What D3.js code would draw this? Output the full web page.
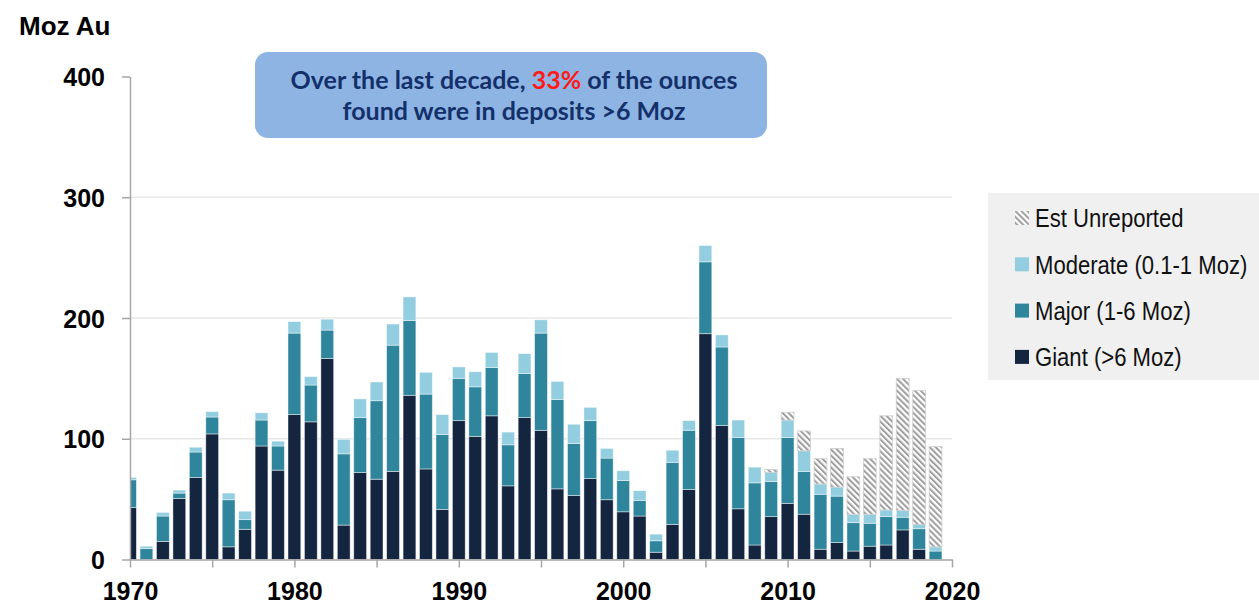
<!DOCTYPE html>
<html lang="en">
<meta charset="utf-8">
<head>
<script src="https://d3js.org/d3.v7.min.js"></script>
<style>
  body { margin: 0; background: #fff; }
  svg text { font-family: "Liberation Sans", Arial, sans-serif; }
  svg text.note { font-family: Lato, "Open Sans", sans-serif; font-weight: bold; font-size: 25px; }
</style>
</head>
<body>
<svg id="chart" width="1259" height="604"></svg>
<script>
// discovery year (categories)
var years = d3.range(1970, 2020);

// Moz Au by deposit size
var giant = [43, 0, 15, 50.5, 68, 104, 10.5, 25, 94, 74,
             120, 114, 166.5, 28.5, 72, 66.5, 73, 136, 75, 41.5,
             115, 102, 119, 61, 117.5, 107, 58.5, 53, 67, 49.5,
             39.5, 36, 6, 29, 58, 187, 111, 42, 12, 35.5,
             46.5, 37.5, 8.5, 14, 7, 11, 12, 24.5, 8.5, 0];
var major = [23, 9, 21, 4.5, 21, 14, 39, 8, 21.5, 20,
             67.5, 30.5, 23.5, 59, 45.5, 65, 104.5, 62, 62, 62,
             35, 41, 40, 34, 36.5, 80.5, 74, 43, 48, 34.5,
             26, 13, 9.5, 51.5, 49, 59.5, 65, 59, 51.5, 29,
             54.5, 35.5, 45.5, 38.5, 23.5, 19, 23.5, 10.5, 17, 7];
var moderate = [2, 2, 3, 2.5, 4, 4.5, 5.5, 7, 6, 4,
                9.5, 7, 9, 12, 15.5, 15.5, 17.5, 19.5, 18, 16.5,
                9.5, 12.5, 12.5, 10.5, 16.5, 11, 15, 16, 11, 8,
                8, 8, 5.5, 10, 8, 13.5, 10, 14.5, 13, 7.5,
                14.5, 17, 8.5, 7.5, 7, 7.5, 5.5, 5.5, 3.5, 3.5];
var unreported = [0, 0, 0, 0, 0, 0, 0, 0, 0, 0,
                  0, 0, 0, 0, 0, 0, 0, 0, 0, 0,
                  0, 0, 0, 0, 0, 0, 0, 0, 0, 0,
                  0, 0, 0, 0, 0, 0, 0, 0, 0, 2.5,
                  6.5, 16.5, 21, 32, 31, 46, 78, 109.5, 111, 83];

var yTicks = [0, 100, 200, 300, 400];
var keys = ["giant", "major", "moderate", "unreported"];
var legendLabels = ["Est Unreported", "Moderate (0.1-1 Moz)", "Major (1-6 Moz)", "Giant (>6 Moz)"];
var legendKeys = ["unreported", "moderate", "major", "giant"];
var colors = { giant: "#13253f", major: "#2f869c", moderate: "#93cde0", unreported: "url(#hatch)" };

var rows = years.map(function(yr, i) {
  return { year: yr, giant: giant[i], major: major[i], moderate: moderate[i], unreported: unreported[i] };
});
var series = d3.stack().keys(keys)(rows);

var svg = d3.select("#chart");
var plotL = 130, plotR = 952, plotT = 76.5, plotB = 559.5;

var x = d3.scaleLinear().domain([1970, 2020]).range([plotL, plotR]);
var y = d3.scaleLinear().domain([0, 400]).range([plotB, plotT]);
var barW = 12.8;

// hatch pattern
var defs = svg.append("defs");
var pat = defs.append("pattern")
  .attr("id", "hatch")
  .attr("patternUnits", "userSpaceOnUse")
  .attr("width", 4.2).attr("height", 4.2)
  .attr("patternTransform", "rotate(-45)");
pat.append("rect").attr("width", 4.2).attr("height", 4.2).attr("fill", "#fff");
pat.append("rect").attr("width", 2).attr("height", 4.2).attr("fill", "#9e9e9e");

defs.append("clipPath").attr("id", "plot")
  .append("rect").attr("x", plotL).attr("y", 0).attr("width", plotR - plotL + 10).attr("height", plotB + 1);

// gridlines
svg.append("g").selectAll("line")
  .data(yTicks.filter(function(d) { return d > 0 && d < 400; }))
  .enter().append("line")
  .attr("x1", plotL).attr("x2", plotR)
  .attr("y1", function(d) { return y(d); }).attr("y2", function(d) { return y(d); })
  .attr("stroke", "#e8e8e8").attr("stroke-width", 1.5);

// bars
var layer = svg.append("g").attr("clip-path", "url(#plot)")
  .selectAll("g").data(series).enter().append("g")
  .attr("fill", function(d) { return colors[d.key]; })
  .attr("stroke", function(d) { return d.key == "unreported" ? "#cfcfcf" : "rgba(255,255,255,0.55)"; })
  .attr("stroke-width", 0.8);

layer.selectAll("rect")
  .data(function(d) { return d.filter(function(p) { return p[1] > p[0]; }); })
  .enter().append("rect")
  .attr("x", function(d) { return x(d.data.year) - barW / 2; })
  .attr("y", function(d) { return y(d[1]); })
  .attr("width", barW)
  .attr("height", function(d) { return y(d[0]) - y(d[1]); });

// axes
var yAxis = svg.append("g")
  .attr("transform", "translate(" + plotL + ",0)")
  .call(d3.axisLeft(y).tickValues(yTicks).tickSize(8).tickSizeOuter(0).tickPadding(17));
var xAxis = svg.append("g")
  .attr("transform", "translate(0," + plotB + ")")
  .call(d3.axisBottom(x).tickValues(d3.range(1970, 2021, 5)).tickSize(8).tickSizeOuter(0).tickPadding(15)
    .tickFormat(function(d) { return d % 10 == 0 ? d : ""; }));

[yAxis, xAxis].forEach(function(a) {
  a.select(".domain").attr("stroke", "#a6a6a6").attr("stroke-width", 1.5);
  a.selectAll(".tick line").attr("stroke", "#a6a6a6").attr("stroke-width", 1.5);
  a.selectAll("text")
    .style("font-size", "25px").style("font-weight", "bold").attr("fill", "#000");
});
yAxis.selectAll("text").attr("dy", "0.36em");
xAxis.selectAll("text").attr("dy", "0.71em");

svg.append("text")
  .attr("x", 19).attr("y", 35)
  .style("font-size", "26px").style("font-weight", "bold")
  .text("Moz Au");

// callout box
svg.append("rect")
  .attr("x", 255).attr("y", 52).attr("width", 512).attr("height", 86)
  .attr("rx", 13).attr("fill", "#8db4e2");
var t1 = svg.append("text").attr("class", "note")
  .attr("x", 514).attr("y", 89).attr("text-anchor", "middle").attr("fill", "#14306a");
t1.append("tspan").text("Over the last decade, ");
t1.append("tspan").attr("fill", "#ff1a1a").text("33%");
t1.append("tspan").text(" of the ounces");
svg.append("text").attr("class", "note")
  .attr("x", 514).attr("y", 120).attr("text-anchor", "middle").attr("fill", "#14306a")
  .text("found were in deposits >6 Moz");

// legend
svg.append("rect")
  .attr("x", 988).attr("y", 193).attr("width", 271).attr("height", 187)
  .attr("fill", "#f0f0f0");
var lg = svg.append("g").selectAll("g")
  .data(legendKeys).enter().append("g")
  .attr("transform", function(d, i) { return "translate(1015," + (218 + i * 46.3) + ")"; });
lg.append("rect")
  .attr("x", 0).attr("y", -7).attr("width", 14).attr("height", 14)
  .attr("fill", function(d) { return colors[d]; });
lg.append("text")
  .attr("transform", "translate(20,0) scale(0.85,1)")
  .attr("dy", "0.36em")
  .style("font-size", "26px")
  .attr("fill", "#111")
  .text(function(d, i) { return legendLabels[i]; });
</script>
</body>
</html>
